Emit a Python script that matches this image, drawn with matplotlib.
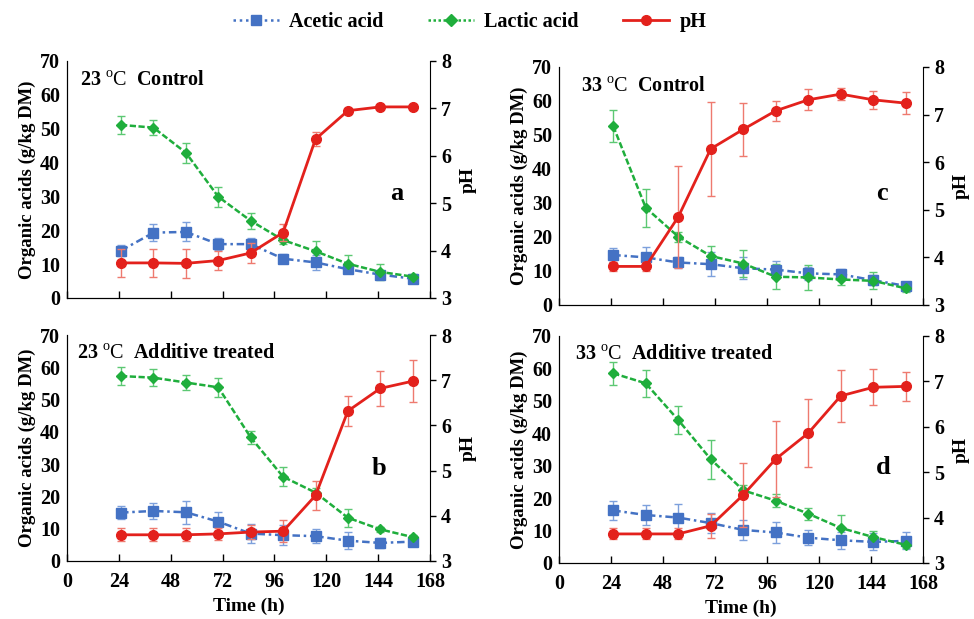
import matplotlib.pyplot as plt
import numpy as np
from matplotlib.lines import Line2D

plt.rcParams['font.family'] = 'Liberation Serif'
plt.rcParams['mathtext.fontset'] = 'custom'
plt.rcParams['mathtext.rm'] = 'Liberation Serif'

time_h = [25, 40, 55, 70, 85, 100, 115, 130, 145, 160]

# 23 C control
acetic_a = [14.0, 19.3, 19.5, 15.9, 15.9, 11.6, 10.5, 8.5, 6.9, 5.7]
acetic_a_err = [1.5, 2.5, 2.8, 1.7, 1.7, 1.3, 2.2, 1.0, 1.0, 0.8]
lactic_a = [51.1, 50.3, 42.9, 29.9, 22.8, 17.1, 13.8, 10.1, 7.7, 6.3]
lactic_a_err = [2.7, 2.3, 3.0, 3.0, 2.4, 1.1, 3.1, 2.7, 2.4, 0.8]
ph_a = [3.74, 3.74, 3.73, 3.79, 3.95, 4.38, 6.35, 6.95, 7.03, 7.03]
ph_a_err = [0.30, 0.30, 0.31, 0.20, 0.21, 0.17, 0.15, 0.05, 0.03, 0.03]

# 23 C additive treated
acetic_b = [15.0, 15.5, 15.1, 12.2, 8.5, 8.0, 7.7, 6.3, 5.6, 6.0]
acetic_b_err = [2.1, 2.4, 3.5, 2.9, 2.9, 3.0, 2.1, 2.6, 1.5, 1.0]
lactic_b = [57.3, 56.8, 55.3, 53.8, 38.3, 26.1, 21.2, 13.4, 9.8, 7.4]
lactic_b_err = [2.7, 2.6, 2.2, 3.0, 1.9, 2.9, 1.5, 2.8, 0.8, 0.8]
ph_b = [3.58, 3.58, 3.58, 3.60, 3.64, 3.66, 4.45, 6.32, 6.82, 6.98]
ph_b_err = [0.14, 0.14, 0.14, 0.14, 0.15, 0.25, 0.32, 0.34, 0.39, 0.47]

# 33 C control
acetic_c = [14.7, 14.0, 12.5, 12.0, 10.8, 10.4, 9.3, 9.0, 7.3, 5.6]
acetic_c_err = [2.2, 3.0, 1.6, 3.5, 3.2, 2.4, 2.0, 1.7, 1.5, 1.0]
lactic_c = [52.6, 28.6, 20.1, 14.4, 12.2, 8.3, 8.1, 7.5, 7.1, 4.9]
lactic_c_err = [4.6, 5.6, 1.5, 3.0, 4.0, 3.7, 3.6, 1.5, 2.5, 1.0]
ph_c = [3.81, 3.81, 4.85, 6.28, 6.69, 7.08, 7.31, 7.43, 7.31, 7.24]
ph_c_err = [0.10, 0.10, 1.07, 0.99, 0.56, 0.21, 0.22, 0.12, 0.19, 0.23]

# 33 C additive treated
acetic_d = [16.2, 14.8, 14.0, 12.3, 10.2, 9.4, 7.8, 7.0, 6.5, 6.8]
acetic_d_err = [2.8, 3.2, 4.2, 3.0, 3.0, 3.2, 2.3, 2.6, 2.6, 2.6]
lactic_d = [58.5, 55.4, 44.1, 32.0, 22.4, 19.2, 15.2, 10.8, 8.0, 5.6]
lactic_d_err = [3.6, 4.2, 4.2, 6.0, 1.5, 2.0, 1.8, 4.1, 1.8, 1.0]
ph_d = [3.64, 3.64, 3.64, 3.82, 4.50, 5.29, 5.86, 6.68, 6.87, 6.89]
ph_d_err = [0.12, 0.12, 0.12, 0.26, 0.70, 0.84, 0.75, 0.57, 0.40, 0.32]

panels = [
    ('23', 'Control', 'a', acetic_a, acetic_a_err, lactic_a, lactic_a_err, ph_a, ph_a_err),
    ('33', 'Control', 'c', acetic_c, acetic_c_err, lactic_c, lactic_c_err, ph_c, ph_c_err),
    ('23', 'Additive treated', 'b', acetic_b, acetic_b_err, lactic_b, lactic_b_err, ph_b, ph_b_err),
    ('33', 'Additive treated', 'd', acetic_d, acetic_d_err, lactic_d, lactic_d_err, ph_d, ph_d_err),
]

# axes rectangles and in-axes text anchors (title x, letter x, letter y)
positions = [
    [0.0688, 0.5186, 0.3727, 0.3830],
    [0.5740, 0.5073, 0.3737, 0.3845],
    [0.0688, 0.0937, 0.3727, 0.3650],
    [0.5740, 0.0905, 0.3737, 0.3667],
]
text_anchor = [
    (0.035, 0.89, 0.44),
    (0.060, 0.87, 0.47),
    (0.028, 0.84, 0.41),
    (0.045, 0.87, 0.42),
]

blue, blue_err = '#4472C4', '#7da0dc'
green, green_err = '#1fae3c', '#5cc873'
red, red_err = '#e3211c', '#ee7a6f'

fig = plt.figure(figsize=(9.74, 6.19), dpi=100)

for i, (temp, cond, letter, ac, ac_e, la, la_e, ph, ph_e) in enumerate(panels):
    ax = fig.add_axes(positions[i])
    ax.errorbar(time_h, ac, yerr=ac_e, color=blue, ecolor=blue_err, elinewidth=1,
                capsize=3, ls=(0, (3, 1.5, 1, 1.5)), lw=1.8, marker='s', ms=6.5)
    ax.errorbar(time_h, la, yerr=la_e, color=green, ecolor=green_err, elinewidth=1,
                capsize=3, ls=(0, (2.5, 1)), lw=1.8, marker='D', ms=5.5)
    ax.set_xlim(0, 168)
    ax.set_ylim(0, 70)
    ax.set_xticks(np.arange(0, 169, 24))
    ax.set_yticks(np.arange(0, 71, 10))
    ax.spines['top'].set_visible(False)
    ax.spines['right'].set_visible(False)
    ax.tick_params(axis='x', direction='in', length=5, width=1, pad=8)
    ax.tick_params(axis='y', direction='out', length=0, width=1, pad=5)
    ax.tick_params(labelsize=14.5)
    for lab in ax.get_xticklabels() + ax.get_yticklabels():
        lab.set_fontweight('bold')
    ax.set_ylabel('Organic acids (g/kg DM)', fontsize=13.5, fontweight='bold', labelpad=3)
    if i < 2:
        ax.set_xticklabels([])
    else:
        ax.set_xlabel('Time (h)', fontsize=14, fontweight='bold', labelpad=4)

    ax2 = ax.twinx()
    ax2.errorbar(time_h, ph, yerr=ph_e, color=red, ecolor=red_err, elinewidth=1,
                 capsize=3, ls='-', lw=2, marker='o', ms=7)
    ax2.set_ylim(3, 8)
    ax2.set_yticks(np.arange(3, 9, 1))
    ax2.spines['top'].set_visible(False)
    ax2.tick_params(axis='y', direction='out', length=4, width=1, labelsize=14.5, pad=4)
    for lab in ax2.get_yticklabels():
        lab.set_fontweight('bold')
    ax2.set_ylabel('pH', fontsize=14, fontweight='bold', labelpad=6)

    tx, lx, ly = text_anchor[i]
    ax.text(tx, 0.92, temp + r' $^{\mathrm{o}}\mathrm{C}$  ' + cond, transform=ax.transAxes,
            fontsize=14.5, fontweight='bold', va='center', ha='left')
    ax.text(lx, ly, letter, transform=ax.transAxes, fontsize=19,
            fontweight='bold', va='center', ha='left')

handles = [
    Line2D([], [], color=blue, ls=(0, (1, 1.5)), lw=1.8, marker='s', ms=7),
    Line2D([], [], color=green, ls=(0, (1, 1)), lw=1.8, marker='D', ms=6),
    Line2D([], [], color=red, ls='-', lw=2, marker='o', ms=7),
]
fig.legend(handles, ['Acetic acid', 'Lactic acid', 'pH'], loc='upper center',
           bbox_to_anchor=(0.482, 1.01), ncol=3, frameon=False, columnspacing=2.2,
           handlelength=2.3, handletextpad=0.5, prop={'weight': 'bold', 'size': 14.5})

plt.savefig('out.png', dpi=100)
plt.close()
